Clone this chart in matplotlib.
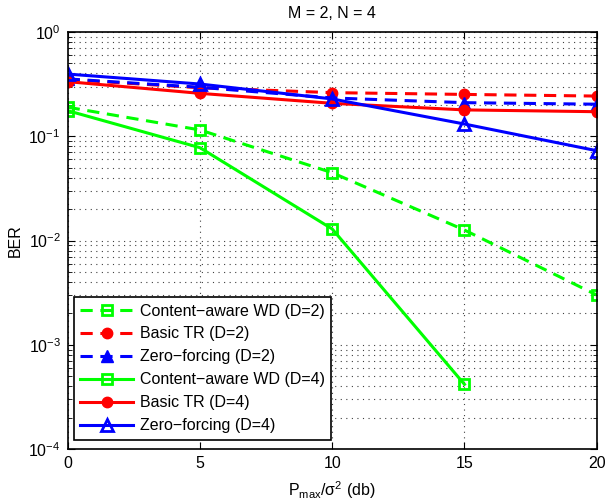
import matplotlib
matplotlib.use("Agg")
import matplotlib.pyplot as plt
from matplotlib.ticker import LogLocator, NullFormatter

plt.rcParams['font.family'] = ['Liberation Sans', 'DejaVu Sans']
plt.rcParams['font.size'] = 11.5
plt.rcParams['mathtext.fontset'] = 'custom'
plt.rcParams['mathtext.rm'] = 'Liberation Sans'
plt.rcParams['mathtext.it'] = 'Liberation Sans:italic'
plt.rcParams['mathtext.bf'] = 'Liberation Sans:bold'

snr_db = [0, 5, 10, 15, 20]
ca_d2 = [0.19, 0.115, 0.0447, 0.0126, 0.0030]
tr_d2 = [0.35, 0.292, 0.262, 0.252, 0.243]
zf_d2 = [0.355, 0.295, 0.233, 0.21, 0.203]
ca_d4_x = [0, 5, 10, 15]
ca_d4 = [0.176, 0.0777, 0.0129, 0.000417]
tr_d4 = [0.334, 0.258, 0.207, 0.179, 0.172]
zf_d4 = [0.395, 0.317, 0.228, 0.131, 0.0727]

labels = ['Content\u2212aware WD (D=2)', 'Basic TR (D=2)', 'Zero\u2212forcing (D=2)',
          'Content\u2212aware WD (D=4)', 'Basic TR (D=4)', 'Zero\u2212forcing (D=4)']

fig = plt.figure(figsize=(6.05, 5.01), dpi=100)
ax = fig.add_axes([0.1119, 0.1038, 0.8744, 0.8323])

lw = 2.2
dash = (4.0, 2.5)
G, R, B = (0, 1, 0), (1, 0, 0), (0, 0, 1)
ax.plot(snr_db, ca_d2, color=G, lw=lw, dashes=dash, marker='s', ms=6.5,
        mfc='none', mec=G, mew=2, label=labels[0])
ax.plot(snr_db, tr_d2, color=R, lw=lw, dashes=dash, marker='o', ms=7.5,
        mfc=R, mec=R, label=labels[1])
ax.plot(snr_db, zf_d2, color=B, lw=lw, dashes=dash, marker='^', ms=9,
        mfc=B, mec=B, label=labels[2])
ax.plot(ca_d4_x, ca_d4, color=G, lw=lw, marker='s', ms=6.5,
        mfc='none', mec=G, mew=2, label=labels[3])
ax.plot(snr_db, tr_d4, color=R, lw=lw, marker='o', ms=7.5,
        mfc=R, mec=R, label=labels[4])
ax.plot(snr_db, zf_d4, color=B, lw=lw, marker='^', ms=9,
        mfc='none', mec=B, mew=2, label=labels[5])

ax.set_yscale('log')
ax.set_xlim(0, 20)
ax.set_ylim(1e-4, 1)
ax.set_xticks([0, 5, 10, 15, 20])
ax.yaxis.set_major_locator(LogLocator(base=10, numticks=10))
ax.yaxis.set_minor_locator(LogLocator(base=10, subs=range(2, 10), numticks=20))
ax.yaxis.set_minor_formatter(NullFormatter())

ax.grid(True, which='major', axis='both', linestyle=(0, (1, 4)), color='0.25', linewidth=0.8)
ax.grid(True, which='minor', axis='y', linestyle=(0, (1, 4)), color='0.25', linewidth=0.8)
ax.tick_params(which='both', direction='in', top=True, right=True, labelsize=11.5)
ax.tick_params(which='major', length=5, width=0.8, pad=5)
ax.tick_params(which='minor', length=3, width=0.6)
for s in ax.spines.values():
    s.set_linewidth(1.2)

ax.set_title('M = 2, N = 4', fontsize=11.5, pad=10)
ax.set_xlabel('P$_{\\rm max}$/\u03c3$^{2}$ (db)', fontsize=11.5, labelpad=6)
ax.set_ylabel('BER', fontsize=11.5)

leg = ax.legend(loc='lower left', bbox_to_anchor=(0.012, 0.022), fancybox=False,
                edgecolor='black', framealpha=1, fontsize=11.5, handlelength=3.3,
                borderaxespad=0, labelspacing=0.5, handletextpad=0.4, borderpad=0.4)
leg.get_frame().set_linewidth(1.2)

fig.savefig('out.png', dpi=100)
